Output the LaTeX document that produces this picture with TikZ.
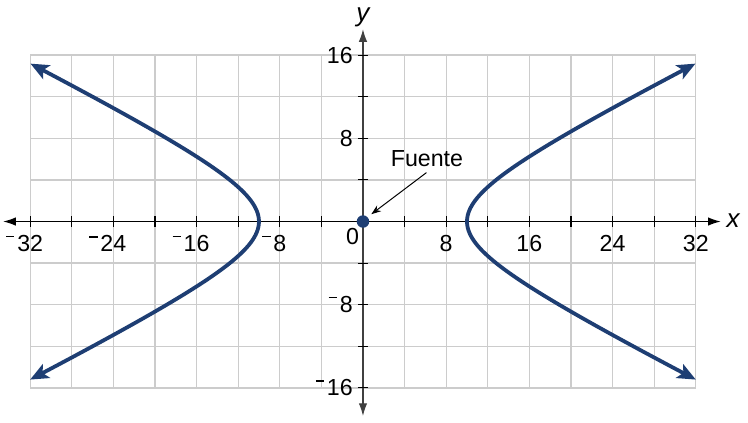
\documentclass[tikz,border=0pt]{standalone}
\usepackage{fontspec}
\setmainfont{Liberation Sans}
\usetikzlibrary{arrows.meta}
\definecolor{curveblue}{RGB}{30,62,115}
\definecolor{gridgray}{RGB}{204,204,204}
\newcommand{\negsign}{\llap{\rule[0.62em]{0.36em}{0.07em}\hspace{0.12em}}}
\tikzset{
  gridline/.style={draw=gridgray, line width=0.9pt},
  axisline/.style={draw=black, line width=0.9pt, {Latex[length=9pt,width=6pt]}-{Latex[length=9pt,width=6pt]}},
  tickmark/.style={draw=black, line width=0.8pt},
  ticklabel/.style={inner sep=0pt, font=\fontsize{16.5}{19}\selectfont},
  axislabel/.style={inner sep=0pt, font=\fontsize{18.5}{22}\selectfont\itshape},
  branch/.style={draw=curveblue, line width=2.7pt, {Stealth[length=13pt,width=11pt,inset=3pt]}-{Stealth[length=13pt,width=11pt,inset=3pt]}},
}
\begin{document}
\begin{tikzpicture}[x=0.26cm,y=0.26cm]
\useasboundingbox (-34.9,-19.37) rectangle (37.02,21.3);
% grid
\foreach \gx in {-32,-28,...,32} \draw[gridline] (\gx,-16) -- (\gx,16);
\foreach \gy in {-16,-12,...,16} \draw[gridline] (-32,\gy) -- (32,\gy);
% axes
\coordinate (xl) at (-34.6,0);
\coordinate (xr) at (34.4,0);
\coordinate (yb) at (0,-18.7);
\coordinate (yt) at (0,18.5);
\draw[axisline] (xl) -- (xr);
\draw[axisline, draw=black!75] (yb) -- (yt);
\node[axislabel] (xlab) at (35.6,0.1) {x};
\node[axislabel, anchor=south] (ylab) at (0,18.7) {y};
% ticks
\foreach \tx in {-32,-28,...,-4,4,8,...,32} \draw[tickmark] (\tx,-0.5) -- (\tx,0.5);
\foreach \ty in {-16,-12,...,-4,4,8,...,16} \draw[tickmark] (-0.5,\ty) -- (0.5,\ty);
% x labels
\foreach \v in {8,16,24,32} {
  \node[ticklabel] (xp\v) at (\v,-2.15) {\v};
  \node[ticklabel] (xn\v) at (-\v,-2.15) {\negsign\v};
}
% y labels
\foreach \v in {8,16} {
  \node[ticklabel, anchor=east] (yp\v) at (-0.96,\v) {\v};
  \node[ticklabel, anchor=east] (yn\v) at (-0.96,-\v) {\negsign\v};
}
\node[ticklabel] (zero) at (-1.0,-1.45) {0};
% hyperbola branches x^2/100 - y^2/25 = 1
\draw[branch] plot[domain=-1.831:1.831, samples=80, smooth, variable=\t] ({10*cosh(\t)},{5*sinh(\t)});
\draw[branch] plot[domain=-1.831:1.831, samples=80, smooth, variable=\t] ({-10*cosh(\t)},{5*sinh(\t)});
% focus point
\fill[curveblue] (0,0) circle (0.6);
\coordinate (src) at (0.8,0.7);
\node[ticklabel] (fuente) at (6.15,6.0) {Fuente};
\draw[black, line width=0.7pt, -{Stealth[length=7pt,width=5pt]}] (6.1,4.7) -- (src);
\end{tikzpicture}
\end{document}
